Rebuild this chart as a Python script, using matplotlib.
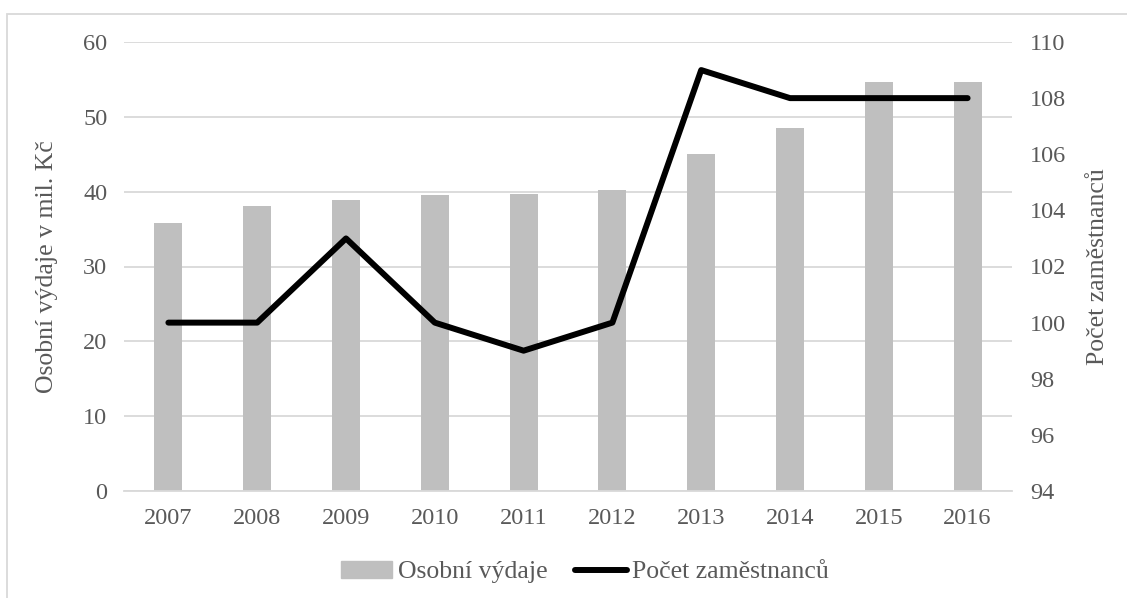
import matplotlib.pyplot as plt
from matplotlib.patches import Rectangle
from matplotlib.lines import Line2D

years = ['2007', '2008', '2009', '2010', '2011', '2012', '2013', '2014', '2015', '2016']
vydaje = [35.8, 38.1, 38.9, 39.5, 39.7, 40.2, 45.0, 48.5, 54.6, 54.7]
zamestnanci = [100, 100, 103, 100, 99, 100, 109, 108, 108, 108]

plt.rcParams['font.family'] = ['Liberation Serif', 'DejaVu Serif']
txt = '#595959'
grid = '#d9d9d9'

fig = plt.figure(figsize=(11.27, 5.98), dpi=100)
ax = fig.add_axes([124 / 1127, 1 - 491 / 598, (1012 - 124) / 1127, (491 - 42) / 598])
ax2 = ax.twinx()

x = list(range(len(years)))
ax.bar(x, vydaje, width=0.315, color='#bfbfbf', zorder=2)
ax.set_ylim(0, 60)
ax.set_yticks(range(0, 61, 10))
ax.set_xlim(-0.5, len(years) - 0.5)
ax.set_xticks(x, years)
ax.yaxis.grid(True, color=grid, linewidth=1.3, zorder=0)
ax.set_axisbelow(True)

ax2.plot(x, zamestnanci, color='black', linewidth=4.3, solid_capstyle='round', zorder=3)
ax2.set_ylim(94, 110)
ax2.set_yticks(range(94, 111, 2))

for a in (ax, ax2):
    for s in a.spines.values():
        s.set_visible(False)
    a.tick_params(length=0, labelsize=17.5, colors=txt)
ax.spines['bottom'].set_visible(True)
ax.spines['bottom'].set_color(grid)
ax.spines['bottom'].set_linewidth(1.3)
ax.tick_params(axis='x', pad=12)
ax.tick_params(axis='y', pad=12)
ax2.tick_params(axis='y', pad=13)

ax.set_ylabel('Osobní výdaje v mil. Kč', fontsize=18.5, color=txt, labelpad=18)
ax2.set_ylabel('Počet zaměstnanců', fontsize=18.5, color=txt, labelpad=15)

handles = [Rectangle((0, 0), 1, 1, color='#bfbfbf'),
           Line2D([], [], color='black', linewidth=4.3, solid_capstyle='round')]
fig.legend(handles, ['Osobní výdaje', 'Počet zaměstnanců'], loc='center',
           bbox_to_anchor=(0.519, 1 - 572 / 598), ncol=2, frameon=False,
           fontsize=18.5, labelcolor=txt, handlelength=2.0, handletextpad=0.2,
           columnspacing=1.1)

fig.add_artist(Rectangle((7 / 1127, -0.1), 1.2, 1 - 14 / 598 + 0.1,
                         transform=fig.transFigure, fill=False,
                         edgecolor='#d9d9d9', linewidth=1.3))

fig.savefig('out.png', dpi=100)
